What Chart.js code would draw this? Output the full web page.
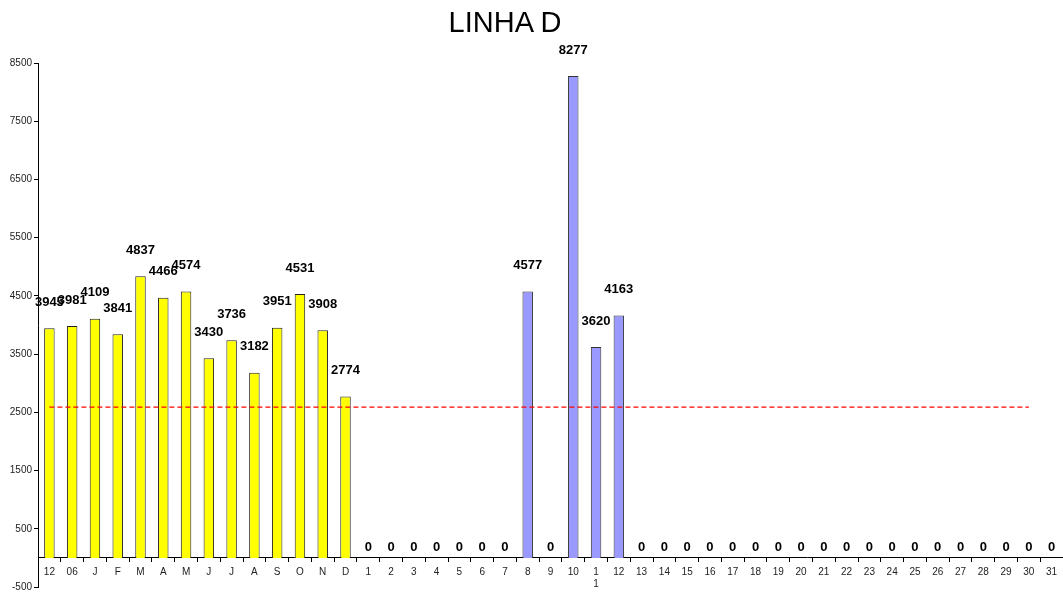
<!DOCTYPE html>
<html>
<head>
<meta charset="utf-8">
<script src="https://cdn.jsdelivr.net/npm/chart.js@4/dist/chart.umd.min.js"></script>
<style>
  html, body { margin: 0; padding: 0; background: #fff; }
  #wrap { position: relative; width: 1063px; height: 595px; }
  #title { position: absolute; left: 0; top: 6px; width: 1010px; text-align: center;
           font: 29px "Liberation Sans", Arial, sans-serif; color: #000; }
</style>
</head>
<body>
<div id="wrap">
  <canvas id="c" width="1063" height="595"></canvas>
  <div id="title">LINHA D</div>
</div>
<script>
/* LINHA D — monthly totals (yellow) followed by daily values (blue), with a target line. */
const monthLabels = ["12", "06", "J", "F", "M", "A", "M", "J", "J", "A", "S", "O", "N", "D"];
const monthValues = [3945, 3981, 4109, 3841, 4837, 4466, 4574, 3430, 3736, 3182, 3951, 4531, 3908, 2774];
const dayLabels = ["1", "2", "3", "4", "5", "6", "7", "8", "9", "10", ["1", "1"], "12", "13", "14", "15",
  "16", "17", "18", "19", "20", "21", "22", "23", "24", "25", "26", "27", "28", "29", "30", "31"];
const dayValues = [0, 0, 0, 0, 0, 0, 0, 4577, 0, 8277, 3620, 4163, 0, 0, 0,
  0, 0, 0, 0, 0, 0, 0, 0, 0, 0, 0, 0, 0, 0, 0, 0];
const targetLevel = 2590;
const targetFrom = "12", targetTo = "30";     // target line runs from first month to day 30
const yTicks = [-500, 500, 1500, 2500, 3500, 4500, 5500, 6500, 7500, 8500];

const labels = monthLabels.concat(dayLabels);
const nM = monthLabels.length, nD = dayLabels.length;
const FONT = '"Liberation Sans", Arial, sans-serif';

// value labels above each bar (no datalabels plugin offline, so draw them here)
const valueLabels = {
  id: "valueLabels",
  afterDatasetsDraw(chart) {
    const ctx = chart.ctx;
    ctx.save();
    ctx.font = "bold 13px " + FONT;
    ctx.fillStyle = "#000";
    ctx.textAlign = "center";
    ctx.textBaseline = "middle";
    [0, 1].forEach(di => {
      const meta = chart.getDatasetMeta(di);
      const data = chart.data.datasets[di].data;
      meta.data.forEach((bar, i) => {
        const v = data[i];
        if (v == null) return;
        const lift = v > 0 ? 26 : 10;
        ctx.fillText(String(v), bar.x, bar.y - lift);
      });
    });
    ctx.restore();
  },
};

new Chart(document.getElementById("c"), {
  type: "bar",
  data: {
    labels,
    datasets: [
      { label: "Meses", data: monthValues.concat(new Array(nD).fill(null)),
        backgroundColor: "#ffff00", borderColor: "#222", borderWidth: 1,
        barPercentage: 0.46, categoryPercentage: 1, grouped: false, order: 2 },
      { label: "Dias", data: new Array(nM).fill(null).concat(dayValues),
        backgroundColor: "#9999ff", borderColor: "#333", borderWidth: 1,
        barPercentage: 0.46, categoryPercentage: 1, grouped: false, order: 2 },
      { type: "line", label: "Meta",
        data: [{ x: targetFrom, y: targetLevel }, { x: targetTo, y: targetLevel }],
        borderColor: "#ff0000", borderWidth: 1.2, borderDash: [5, 3], pointRadius: 0, order: 1 },
    ],
  },
  options: {
    responsive: false, animation: false,
    layout: { padding: { top: 63, bottom: 0, left: 0, right: 0 } },
    plugins: { legend: { display: false }, title: { display: false }, tooltip: { enabled: false } },
    scales: {
      x: {
        position: { y: 0 },
        offset: true,
        grid: { display: true, drawOnChartArea: false, offset: true, tickLength: 4, color: "#000" },
        border: { display: true, color: "#000", width: 1 },
        ticks: { color: "#222", font: { size: 10, family: FONT }, maxRotation: 0, autoSkip: false, padding: 4 },
      },
      y: {
        min: -500, max: 8500,
        afterBuildTicks: s => { s.ticks = yTicks.map(v => ({ value: v })); },
        afterFit: s => { s.width = 38; },
        grid: { display: true, drawOnChartArea: false, tickLength: 4, color: "#000" },
        border: { display: true, color: "#000", width: 1 },
        ticks: { color: "#222", font: { size: 10, family: FONT }, padding: 2, callback: v => String(v) },
      },
    },
  },
  plugins: [valueLabels],
});
</script>
</body>
</html>
